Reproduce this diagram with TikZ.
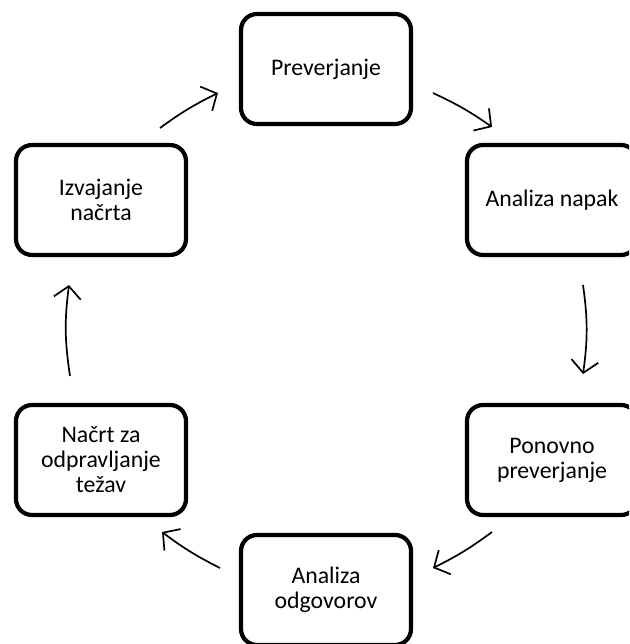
\documentclass[tikz,border=0pt]{standalone}
\usepackage{fontspec}
\setmainfont{Carlito}
\usetikzlibrary{arrows.meta}
\begin{document}
\begin{tikzpicture}[x=1pt,y=-1pt,
 box/.style={draw=black, line width=4.2pt, rounded corners=16pt, minimum width=170pt, minimum height=110pt, align=center, font=\fontsize{23.8}{25}\selectfont, inner sep=0pt},
 flow/.style={line width=1.7pt, -{Straight Barb[length=12pt,width=27pt,line width=1.7pt]}}
]
\useasboundingbox (0,0) rectangle (629,644);
\clip (0,0) rectangle (629,644);
\node[box] (p) at (326,69) {Preverjanje};
\node[box] (an) at (552,200) {Analiza napak};
\node[box] (pp) at (552,460) {Ponovno\\preverjanje};
\node[box] (ao) at (326,590) {Analiza\\odgovorov};
\node[box] (nc) at (101,460) {Načrt za\\odpravljanje\\težav};
\node[box] (iz) at (101,200) {Izvajanje\\načrta};
\coordinate (a1s) at (160,128); \coordinate (a1e) at (218,93);
\coordinate (a2s) at (433,93);  \coordinate (a2e) at (492,127);
\coordinate (a3s) at (583,285); \coordinate (a3e) at (583,374);
\coordinate (a4s) at (492,532); \coordinate (a4e) at (433,568);
\coordinate (a5s) at (220,568); \coordinate (a5e) at (162,532);
\coordinate (a6s) at (70,376);  \coordinate (a6e) at (69,285);
\draw[flow] (a1s) to[bend left=5] (a1e);
\draw[flow] (a2s) to[bend left=5] (a2e);
\draw[flow] (a3s) to[bend left=8] (a3e);
\draw[flow] (a4s) to[bend left=5] (a4e);
\draw[flow] (a5s) to[bend left=5] (a5e);
\draw[flow] (a6s) to[bend left=8] (a6e);
\end{tikzpicture}
\end{document}
